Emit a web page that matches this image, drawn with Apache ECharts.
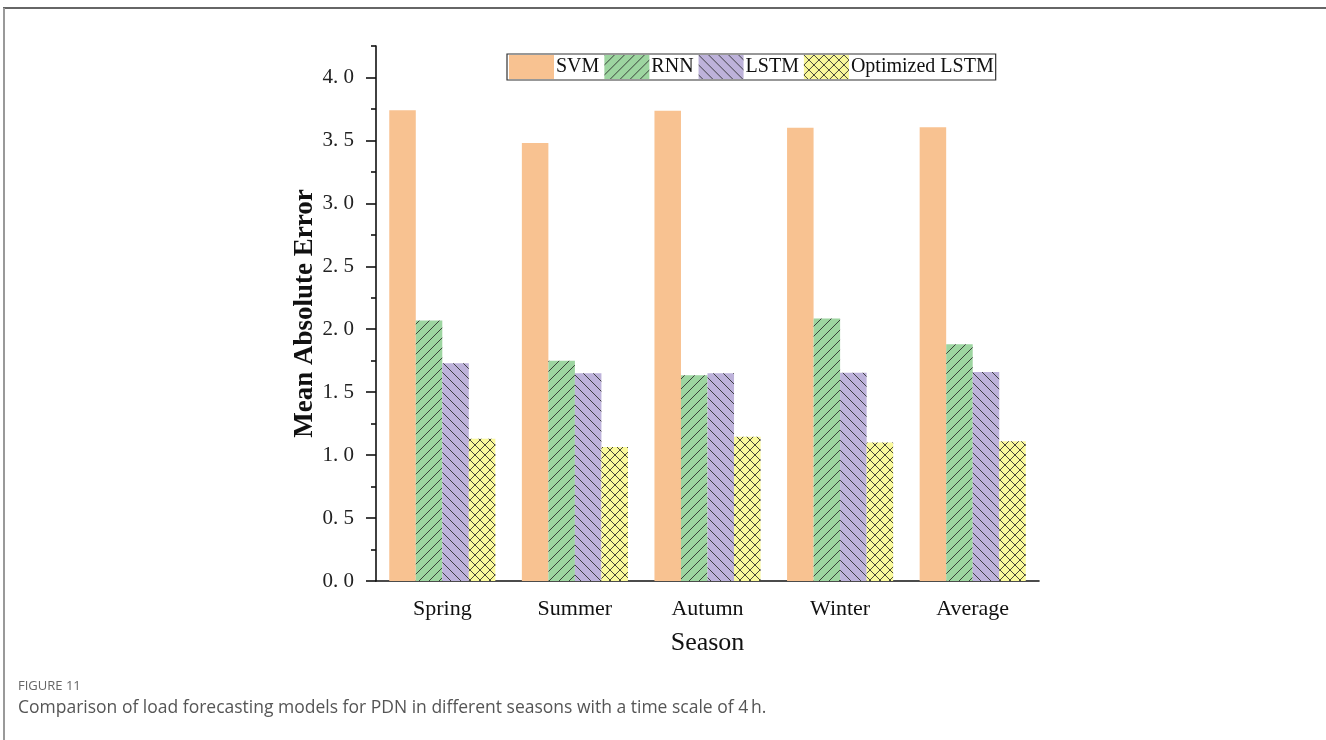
<!DOCTYPE html>
<html>
<head>
<meta charset="utf-8">
<script src="https://cdn.jsdelivr.net/npm/echarts@6/dist/echarts.min.js"></script>
<style>
html,body{margin:0;padding:0;background:#fff;}
#chart{width:1326px;height:740px;}
</style>
</head>
<body>
<div id="chart"></div>
<script>
// ---- data ----
const categories = ['Spring', 'Summer', 'Autumn', 'Winter', 'Average'];
const seriesNames = ['SVM', 'RNN', 'LSTM', 'Optimized LSTM'];
const svm = [3.74, 3.48, 3.735, 3.60, 3.605];
const rnn = [2.07, 1.75, 1.635, 2.085, 1.88];
const lstm = [1.73, 1.65, 1.65, 1.655, 1.66];
const optLstm = [1.13, 1.065, 1.145, 1.10, 1.11];
const yMajorTicks = [0, 0.5, 1.0, 1.5, 2.0, 2.5, 3.0, 3.5, 4.0];
const yMinorTicks = [0.25, 0.75, 1.25, 1.75, 2.25, 2.75, 3.25, 3.75, 4.25];
const yMax = 4.25;

// ---- hatch patterns ----
function makePattern(bg, fwd, back) {
  const s = 10;
  const c = document.createElement('canvas');
  c.width = s; c.height = s;
  const g = c.getContext('2d');
  g.fillStyle = bg; g.fillRect(0, 0, s, s);
  g.strokeStyle = 'rgba(40,40,40,0.85)';
  g.lineWidth = 1;
  g.beginPath();
  if (fwd) {
    g.moveTo(-1, s + 1); g.lineTo(s + 1, -1);
    g.moveTo(-2, 1); g.lineTo(1, -2);
    g.moveTo(s - 1, s + 2); g.lineTo(s + 2, s - 1);
  }
  if (back) {
    g.moveTo(-1, -1); g.lineTo(s + 1, s + 1);
    g.moveTo(s - 1, -2); g.lineTo(s + 2, 1);
    g.moveTo(-2, s - 1); g.lineTo(1, s + 2);
  }
  g.stroke();
  return { image: c, repeat: 'repeat' };
}
const cSVM = '#F8C291';
const cRNN = makePattern('#9DD5A0', true, false);
const cLSTM = makePattern('#BDB2DA', false, true);
const cOPT = makePattern('#FAF99B', true, true);

const serif = 'Liberation Serif, Times New Roman, serif';
const chart = echarts.init(document.getElementById('chart'));

function bar(name, data, color) {
  return {
    name: name, type: 'bar', data: data,
    xAxisIndex: 0, yAxisIndex: 0,
    barGap: '0%', barCategoryGap: '20%',
    itemStyle: { color: color },
    emphasis: { disabled: true }
  };
}

chart.setOption({
  animation: false,
  backgroundColor: '#fff',
  title: [
    { text: 'FIGURE 11', left: 13, top: 675,
      textStyle: { fontFamily: 'Open Sans', fontSize: 13, fontWeight: 'normal', color: '#666' } },
    { text: 'Comparison of load forecasting models for PDN in different seasons with a time scale of 4\u2009h.',
      left: 13, top: 694,
      textStyle: { fontFamily: 'Open Sans', fontSize: 17.5, fontWeight: 'normal', color: '#555' } }
  ],
  graphic: [
    { type: 'line', shape: { x1: 3, y1: 8, x2: 1326, y2: 8 }, style: { stroke: '#333', lineWidth: 1.5 } },
    { type: 'line', shape: { x1: 4, y1: 8, x2: 4, y2: 740 }, style: { stroke: '#999', lineWidth: 2 } }
  ],
  legend: {
    left: 507, top: 54,
    itemWidth: 45, itemHeight: 24, itemGap: 5,
    padding: [1, 2, 1, 2],
    borderColor: '#333', borderWidth: 1.2,
    icon: 'rect',
    data: seriesNames,
    textStyle: { fontFamily: serif, fontSize: 20, color: '#111', padding: [0, 0, 0, -3] }
  },
  grid: { left: 376, right: 287, top: 46, bottom: 159, containLabel: false },
  xAxis: [
    {
      type: 'category', data: categories, position: 'bottom',
      name: 'Season', nameLocation: 'middle', nameGap: 49,
      nameTextStyle: { fontFamily: serif, fontSize: 26, color: '#111' },
      axisLine: { lineStyle: { color: '#111', width: 1.6 } },
      axisTick: { alignWithLabel: true, length: 9, lineStyle: { color: '#111', width: 1.6 } },
      axisLabel: { fontFamily: serif, fontSize: 22, color: '#111', margin: 17 }
    },
    {
      type: 'category', data: categories, position: 'bottom',
      axisLine: { show: false },
      axisTick: { length: 4, lineStyle: { color: '#111', width: 1.6 } },
      axisLabel: { show: false }
    }
  ],
  yAxis: [
    {
      type: 'value', min: 0, max: yMax, position: 'left',
      name: 'Mean Absolute Error', nameLocation: 'middle', nameGap: 56,
      nameTextStyle: { fontFamily: serif, fontSize: 27, fontWeight: 'bold', color: '#111' },
      axisLine: { show: true, lineStyle: { color: '#111', width: 1.6 } },
      axisTick: { show: true, length: 10, customValues: yMajorTicks, lineStyle: { color: '#111', width: 1.6 } },
      axisLabel: { fontFamily: serif, fontSize: 21, color: '#222', margin: 22,
        customValues: yMajorTicks,
        formatter: function (v) { return v.toFixed(1).replace('.', '. '); } },
      splitLine: { show: false }
    },
    {
      type: 'value', min: 0, max: yMax, position: 'left',
      axisLine: { show: false },
      axisTick: { show: true, length: 5, customValues: yMinorTicks, lineStyle: { color: '#111', width: 1.6 } },
      axisLabel: { show: false },
      splitLine: { show: false }
    }
  ],
  series: [
    bar('SVM', svm, cSVM),
    bar('RNN', rnn, cRNN),
    bar('LSTM', lstm, cLSTM),
    bar('Optimized LSTM', optLstm, cOPT)
  ]
});
</script>
</body>
</html>
